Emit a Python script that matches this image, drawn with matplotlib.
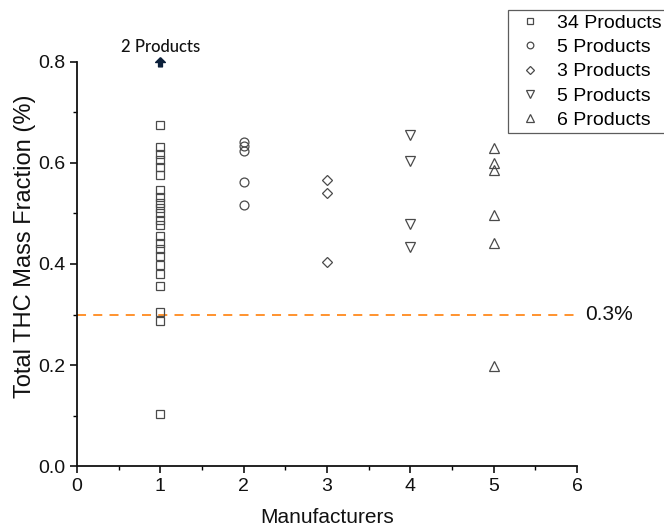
import matplotlib
matplotlib.use('Agg')
import matplotlib.pyplot as plt
import matplotlib.ticker as mticker
from matplotlib.path import Path

plt.rcParams['font.family'] = ['Liberation Sans', 'DejaVu Sans']

# data
m1 = [0.674, 0.632, 0.617, 0.605, 0.592, 0.577, 0.546, 0.533, 0.520, 0.510,
      0.500, 0.487, 0.477, 0.455, 0.442, 0.429, 0.415, 0.398, 0.380, 0.357,
      0.305, 0.288, 0.103]
m2 = [0.642, 0.634, 0.624, 0.563, 0.516]
m3 = [0.566, 0.541, 0.404]
m4 = [0.655, 0.603, 0.479, 0.434]
m5 = [0.630, 0.599, 0.586, 0.496, 0.441, 0.198]
groups = [m1, m2, m3, m4, m5]
markers = ['s', 'o', 'D', 'v', '^']
labels = ['34 Products', '5 Products', '3 Products', '5 Products', '6 Products']
sizes = [6.2, 6.4, 5.2, 6.8, 6.8]
limit = 0.3
off_scale_x, off_scale_y, off_scale_label = 1, 0.8, '2 Products'

EDGE = '#4a4a4a'
ORANGE = '#FF8A1E'

fig = plt.figure(figsize=(6.64, 5.28), dpi=100)
ax = fig.add_axes([0.116, 0.117, 0.753, 0.766])

handles = []
for i, (vals, mk, lab, ms) in enumerate(zip(groups, markers, labels, sizes)):
    h, = ax.plot([i + 1] * len(vals), vals, linestyle='none', marker=mk,
                 markersize=ms, markerfacecolor='none', markeredgecolor=EDGE,
                 markeredgewidth=0.9, label=lab)
    handles.append(h)

# off-scale arrow
arrow = Path([(0, 1), (1, 0), (0.4, 0), (0.4, -0.9), (-0.4, -0.9),
              (-0.4, 0), (-1, 0), (0, 1)])
ax.plot(off_scale_x, off_scale_y, marker=arrow, markersize=7,
        color='#0b1f3a', linestyle='none', clip_on=False, zorder=5)
ax.text(off_scale_x, off_scale_y + 0.014, off_scale_label, ha='center',
        va='bottom', fontsize=12, color='#111111', fontweight='medium',
        family=['Lato', 'DejaVu Sans'])

# 0.3% line
ax.axhline(limit, color=ORANGE, linestyle=(0, (5, 4)), linewidth=1.3, zorder=1)
ax.text(6.1, limit, '0.3%', ha='left', va='center', fontsize=15,
        color='#111111', clip_on=False)

ax.set_xlim(0, 6)
ax.set_ylim(0, 0.8)
ax.xaxis.set_major_locator(mticker.MultipleLocator(1))
ax.xaxis.set_minor_locator(mticker.MultipleLocator(0.5))
ax.yaxis.set_major_locator(mticker.MultipleLocator(0.2))
ax.yaxis.set_minor_locator(mticker.MultipleLocator(0.1))
ax.yaxis.set_major_formatter(mticker.FormatStrFormatter('%.1f'))
ax.tick_params(which='major', direction='out', length=5, width=1.2,
               labelsize=14, colors='#111111')
ax.tick_params(which='minor', direction='out', length=3, width=1.0)

for s in ['top', 'right']:
    ax.spines[s].set_visible(False)
for s in ['left', 'bottom']:
    ax.spines[s].set_linewidth(1.3)
    ax.spines[s].set_color('#111111')

ax.set_xlabel('Manufacturers', fontsize=15, color='#111111', labelpad=9)
ax.set_ylabel('Total THC Mass Fraction (%)', fontsize=17, color='#111111')
ax.yaxis.set_label_coords(-0.082, 0.545)

leg = fig.legend(handles=handles, loc='upper right',
                 bbox_to_anchor=(1.003, 0.981), fontsize=14, markerscale=0.75,
                 frameon=True, fancybox=False, handlelength=1.85,
                 handletextpad=0.46, labelspacing=0.34, borderpad=0.22,
                 borderaxespad=0)
leg.get_frame().set_edgecolor('#333333')
leg.get_frame().set_linewidth(0.9)

fig.savefig('out.png', dpi=100, facecolor='white')
